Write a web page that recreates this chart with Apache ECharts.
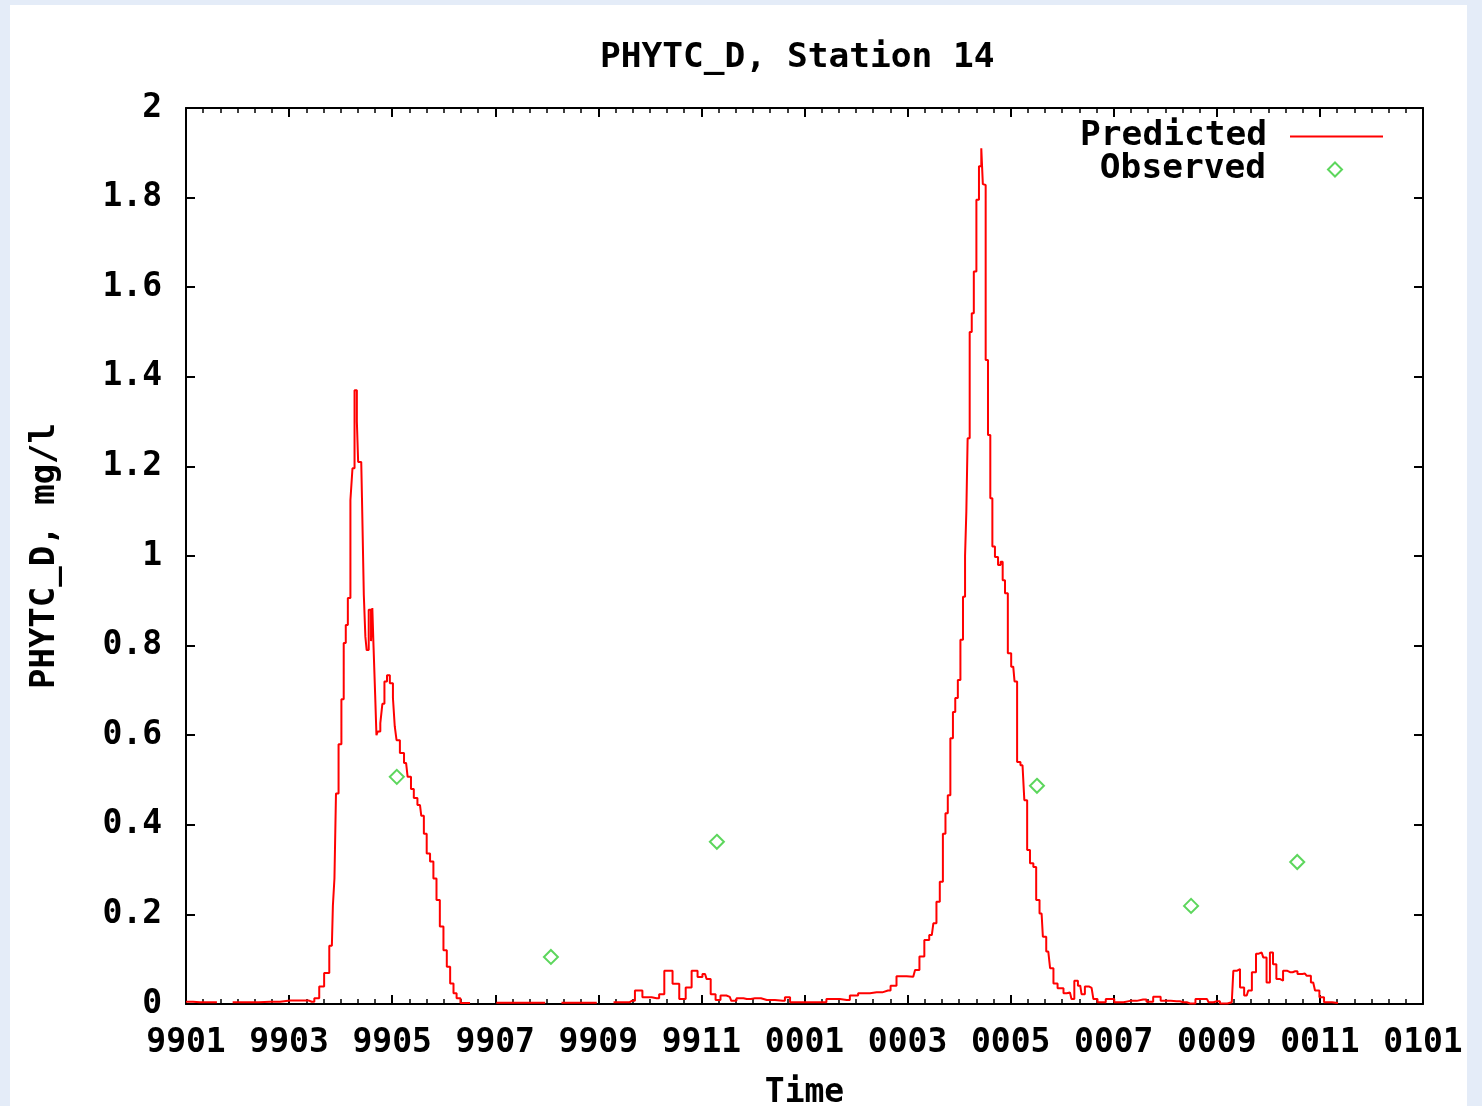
<!DOCTYPE html>
<html>
<head>
<meta charset="utf-8">
<title>PHYTC_D, Station 14</title>
<script src="https://cdn.jsdelivr.net/npm/echarts@6/dist/echarts.min.js"></script>
<style>
  html, body { margin: 0; padding: 0; background: #e4ecf8; }
  #chart { width: 1482px; height: 1106px; }
</style>
</head>
<body>
<div id="chart"></div>
<script>
// x values are months since Jan 1999 (0 = 9901, 24 = 0101)
const tickLabels = ['9901', '9903', '9905', '9907', '9909', '9911', '0001', '0003', '0005', '0007', '0009', '0011', '0101']

// predicted series, null = no data (gap in the line)
const predX = [
  0.00, 0.27, 0.60, 0.61,
  1.20, 1.63, 2.02, 2.31, 2.44, 2.54, 2.63, 2.73, 2.83, 2.87, 2.89, 2.93, 2.99, 3.04, 3.08, 3.12,
  3.16, 3.22, 3.24, 3.30, 3.33, 3.35, 3.40, 3.43, 3.47, 3.49, 3.52, 3.57, 3.61, 3.62, 3.65, 3.69,
  3.70, 3.74, 3.80, 3.82, 3.88, 3.92, 3.99, 4.04, 4.06, 4.11, 4.19, 4.27, 4.33, 4.40, 4.44, 4.54,
  4.59, 4.64, 4.70, 4.77, 4.83, 4.89, 4.96, 5.03, 5.09, 5.16, 5.22, 5.28, 5.37, 5.51, 5.52,
  6.52, 6.97, 6.98,
  7.59, 7.97, 7.98,
  8.61, 8.65, 8.77, 8.94, 9.13, 9.23, 9.33, 9.39, 9.49, 9.65, 9.74, 9.88, 9.97, 10.07, 10.13,
  10.23, 10.32, 10.42, 10.55, 10.61, 10.75, 10.88, 11.04, 11.27, 11.58, 11.66, 11.78, 12.30, 12.55,
  12.82, 12.94, 13.14, 13.40, 13.62, 13.72, 13.85, 14.11, 14.18, 14.28, 14.37, 14.47, 14.53, 14.59,
  14.66, 14.71, 14.76, 14.80, 14.86, 14.90, 14.95, 15.00, 15.05, 15.10, 15.13, 15.15, 15.18, 15.23,
  15.26, 15.31, 15.36, 15.41, 15.45, 15.47, 15.49, 15.54, 15.58, 15.63, 15.66, 15.73, 15.78, 15.83,
  15.86, 15.92, 15.97, 16.05, 16.10, 16.15, 16.23, 16.30, 16.34, 16.41, 16.47, 16.52, 16.60, 16.65,
  16.73, 16.80, 16.86, 16.96, 17.09, 17.15, 17.21, 17.26, 17.35, 17.40, 17.48, 17.57, 17.64, 17.73,
  17.96, 18.06, 18.32, 18.57, 18.70, 18.83, 18.99, 19.22, 19.35, 19.48, 19.69, 19.81, 19.87, 20.00,
  20.12, 20.29, 20.35, 20.42, 20.48, 20.58, 20.64, 20.72, 20.80, 20.87, 20.93, 21.00, 21.06, 21.12,
  21.19, 21.25, 21.32, 21.42, 21.52, 21.61, 21.71, 21.78, 21.87, 21.94, 22.04, 22.12, 22.35
]
const predY = [
  0.005, 0.004, 0.004, null,
  0.004, 0.005, 0.008, 0.008, 0.005, 0.013, 0.039, 0.069, 0.13, 0.22, 0.28, 0.47, 0.58, 0.68, 0.806, 0.846,
  0.906, 1.125, 1.196, 1.37, 1.30, 1.21, 1.21, 1.125, 0.913, 0.82, 0.79, 0.88, 0.81, 0.884, 0.81, 0.69,
  0.60, 0.608, 0.627, 0.67, 0.72, 0.734, 0.716, 0.683, 0.62, 0.589, 0.56, 0.538, 0.507, 0.48, 0.46, 0.444,
  0.42, 0.38, 0.336, 0.318, 0.28, 0.232, 0.173, 0.12, 0.083, 0.046, 0.024, 0.013, 0.002, 0.002, null,
  0.003, 0.003, null,
  0.003, 0.003, null,
  0.004, 0.007, 0.03, 0.015, 0.013, 0.022, 0.074, 0.074, 0.045, 0.011, 0.037, 0.074, 0.06, 0.067, 0.056,
  0.022, 0.009, 0.019, 0.016, 0.007, 0.013, 0.011, 0.013, 0.009, 0.007, 0.015, 0.004, 0.004, 0.011,
  0.009, 0.019, 0.024, 0.026, 0.03, 0.041, 0.062, 0.061, 0.076, 0.106, 0.143, 0.154, 0.18, 0.228,
  0.273, 0.38, 0.426, 0.466, 0.593, 0.652, 0.683, 0.723, 0.813, 0.909, 1.0, 1.099, 1.263, 1.50,
  1.542, 1.635, 1.795, 1.87, 1.91, 1.83, 1.828, 1.4375, 1.27, 1.129, 1.021, 0.998, 0.98, 0.987,
  0.946, 0.917, 0.783, 0.753, 0.72, 0.54, 0.533, 0.455, 0.344, 0.314, 0.306, 0.232, 0.202, 0.15,
  0.117, 0.08, 0.046, 0.035, 0.024, 0.026, 0.011, 0.052, 0.041, 0.022, 0.039, 0.036, 0.011, 0.004,
  0.011, 0.004, 0.007, 0.01, 0.005, 0.016, 0.007, 0.006, 0.004, 0.001, 0.011, 0.011, 0.004, 0.006,
  0.001, 0.004, 0.074, 0.078, 0.037, 0.019, 0.03, 0.071, 0.112, 0.115, 0.104, 0.048, 0.115, 0.089,
  0.056, 0.052, 0.074, 0.071, 0.073, 0.067, 0.068, 0.063, 0.048, 0.03, 0.015, 0.004, 0.002
]

const obsX = [4.09, 7.08, 10.30, 16.51, 19.50, 21.56]
const obsY = [0.507, 0.105, 0.362, 0.487, 0.219, 0.317]

const FONT = 'DejaVu Sans Mono'
const txt = { fontFamily: FONT, fontWeight: 'bold', fontSize: 33, color: '#000' }
const bigTxt = Object.assign({}, txt, { fontSize: 34.5 })

const chart = echarts.init(document.getElementById('chart'))

const frameAxis = {
  axisLine: { show: true, onZero: false, lineStyle: { color: '#000', width: 2 } },
  splitLine: { show: false }
}
const majorTick = { show: true, inside: true, length: 9, lineStyle: { color: '#000', width: 2 } }
const minorTick = { show: true, splitNumber: 6, length: 5, lineStyle: { color: '#000', width: 1.5 } }

chart.setOption({
  backgroundColor: '#e4ecf8',
  animation: false,
  graphic: [{
    type: 'rect',
    z: -10,
    shape: { x: 10, y: 5, width: 1457, height: 1101 },
    style: { fill: '#fff' }
  }],
  title: {
    text: 'PHYTC_D, Station 14',
    left: 595,
    top: 36,
    textStyle: Object.assign({}, bigTxt)
  },
  legend: [
    {
      data: [{ name: 'Predicted', icon: 'rect' }],
      right: 99,
      top: 119,
      orient: 'vertical',
      align: 'right',
      padding: 0,
      itemWidth: 93,
      itemHeight: 2,
      textStyle: Object.assign({ padding: [0, 18, 0, 0] }, bigTxt)
    },
    {
      data: ['Observed'],
      right: 139,
      top: 152,
      orient: 'vertical',
      align: 'right',
      padding: 0,
      itemWidth: 14,
      itemHeight: 14,
      textStyle: Object.assign({ padding: [0, 57, 0, 0] }, bigTxt)
    }
  ],
  grid: { left: 186, right: 59, top: 108, bottom: 102, containLabel: false, outerBoundsMode: 'none' },
  xAxis: [
    Object.assign({
      type: 'value',
      min: 0,
      max: 24,
      interval: 2,
      name: 'Time',
      nameLocation: 'middle',
      nameGap: 73,
      nameTextStyle: Object.assign({}, txt),
      axisTick: majorTick,
      minorTick: minorTick,
      axisLabel: Object.assign({ margin: 23, formatter: v => tickLabels[Math.round(v / 2)] }, txt)
    }, frameAxis),
    Object.assign({
      type: 'value',
      position: 'top',
      min: 0,
      max: 24,
      interval: 2,
      axisTick: majorTick,
      minorTick: minorTick,
      axisLabel: { show: false }
    }, frameAxis)
  ],
  yAxis: [
    Object.assign({
      type: 'value',
      min: 0,
      max: 2,
      interval: 0.2,
      name: 'PHYTC_D, mg/l',
      nameLocation: 'middle',
      nameGap: 124,
      nameTextStyle: Object.assign({}, txt, { fontSize: 34 }),
      axisTick: majorTick,
      axisLabel: Object.assign({ margin: 24, formatter: v => String(+v.toFixed(1)) }, txt)
    }, frameAxis),
    Object.assign({
      type: 'value',
      position: 'right',
      min: 0,
      max: 2,
      interval: 0.2,
      axisTick: majorTick,
      axisLabel: { show: false }
    }, frameAxis)
  ],
  series: [
    {
      name: 'Predicted',
      type: 'line',
      symbol: 'none',
      step: 'middle',
      color: '#ff0000',
      lineStyle: { color: '#ff0000', width: 2 },
      connectNulls: false,
      data: predX.map((x, i) => [x, predY[i] === null ? '-' : predY[i]])
    },
    {
      name: 'Observed',
      type: 'scatter',
      symbol: 'emptyDiamond',
      symbolSize: 14,
      itemStyle: { color: '#33cc33', borderColor: '#33cc33', borderWidth: 1.5 },
      data: obsX.map((x, i) => [x, obsY[i]])
    }
  ]
})
</script>
</body>
</html>
